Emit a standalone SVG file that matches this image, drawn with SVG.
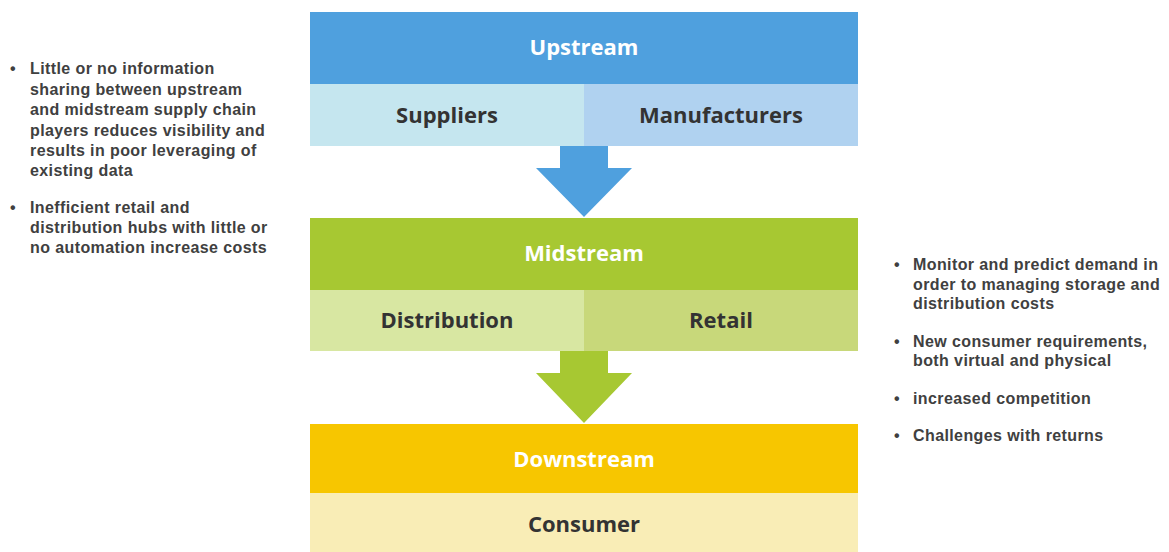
<svg xmlns="http://www.w3.org/2000/svg" width="1169" height="552" viewBox="0 0 1169 552">
  <style>
    .hdr { font-family: "Open Sans", "Noto Sans", sans-serif; font-weight: 700; font-size: 22px; fill: #ffffff; text-anchor: middle; }
    .sub { font-family: "Open Sans", "Noto Sans", sans-serif; font-weight: 700; font-size: 22px; fill: #333333; text-anchor: middle; }
    .note { font-family: "Liberation Sans", Arial, sans-serif; font-weight: 700; font-size: 16px; letter-spacing: 0.4px; fill: #404040; }
  </style>
  <rect width="1169" height="552" fill="#ffffff"/>

  <!-- stage blocks -->
  <g id="upstream">
    <rect x="310" y="12" width="548" height="72" fill="#4FA0DE"/>
    <text class="hdr" x="584" y="55">Upstream</text>
  </g>
  <g id="suppliers">
    <rect x="310" y="84" width="274" height="62" fill="#C5E6EF"/>
    <text class="sub" x="447" y="123">Suppliers</text>
  </g>
  <g id="manufacturers">
    <rect x="584" y="84" width="274" height="62" fill="#B0D2F0"/>
    <text class="sub" x="721" y="123">Manufacturers</text>
  </g>

  <g id="midstream">
    <rect x="310" y="218" width="548" height="72" fill="#A7C832"/>
    <text class="hdr" x="584" y="261">Midstream</text>
  </g>
  <g id="distribution">
    <rect x="310" y="290" width="274" height="61" fill="#D8E7A2"/>
    <text class="sub" x="447" y="328">Distribution</text>
  </g>
  <g id="retail">
    <rect x="584" y="290" width="274" height="61" fill="#C8D87A"/>
    <text class="sub" x="721" y="328">Retail</text>
  </g>

  <g id="downstream">
    <rect x="310" y="424" width="548" height="69" fill="#F7C600"/>
    <text class="hdr" x="584" y="467">Downstream</text>
  </g>
  <g id="consumer">
    <rect x="310" y="493" width="548" height="59" fill="#F9EDB6"/>
    <text class="sub" x="584" y="532">Consumer</text>
  </g>

  <!-- block arrows between stages -->
  <g id="connectors">
    <polygon points="560,146 608,146 608,168 632,168 584,217 536,168 560,168" fill="#4FA0DE"/>
    <polygon points="560,351 608,351 608,373 632,373 584,423 536,373 560,373" fill="#A7C832"/>
  </g>

  <!-- left notes -->
  <g id="notes-left" class="note">
    <text x="10" y="74">•</text>
    <text x="30" y="74">Little or no information</text>
    <text x="30" y="95">sharing between upstream</text>
    <text x="30" y="115">and midstream supply chain</text>
    <text x="30" y="136">players reduces visibility and</text>
    <text x="30" y="156">results in poor leveraging of</text>
    <text x="30" y="176">existing data</text>
    <text x="10" y="213">•</text>
    <text x="30" y="213">Inefficient retail and</text>
    <text x="30" y="233">distribution hubs with little or</text>
    <text x="30" y="253">no automation increase costs</text>
  </g>

  <!-- right notes -->
  <g id="notes-right" class="note">
    <text x="894" y="270">•</text>
    <text x="913" y="270">Monitor and predict demand in</text>
    <text x="913" y="290">order to managing storage and</text>
    <text x="913" y="309">distribution costs</text>
    <text x="894" y="347">•</text>
    <text x="913" y="347">New consumer requirements,</text>
    <text x="913" y="366">both virtual and physical</text>
    <text x="894" y="404">•</text>
    <text x="913" y="404">increased competition</text>
    <text x="894" y="441">•</text>
    <text x="913" y="441">Challenges with returns</text>
  </g>
</svg>
